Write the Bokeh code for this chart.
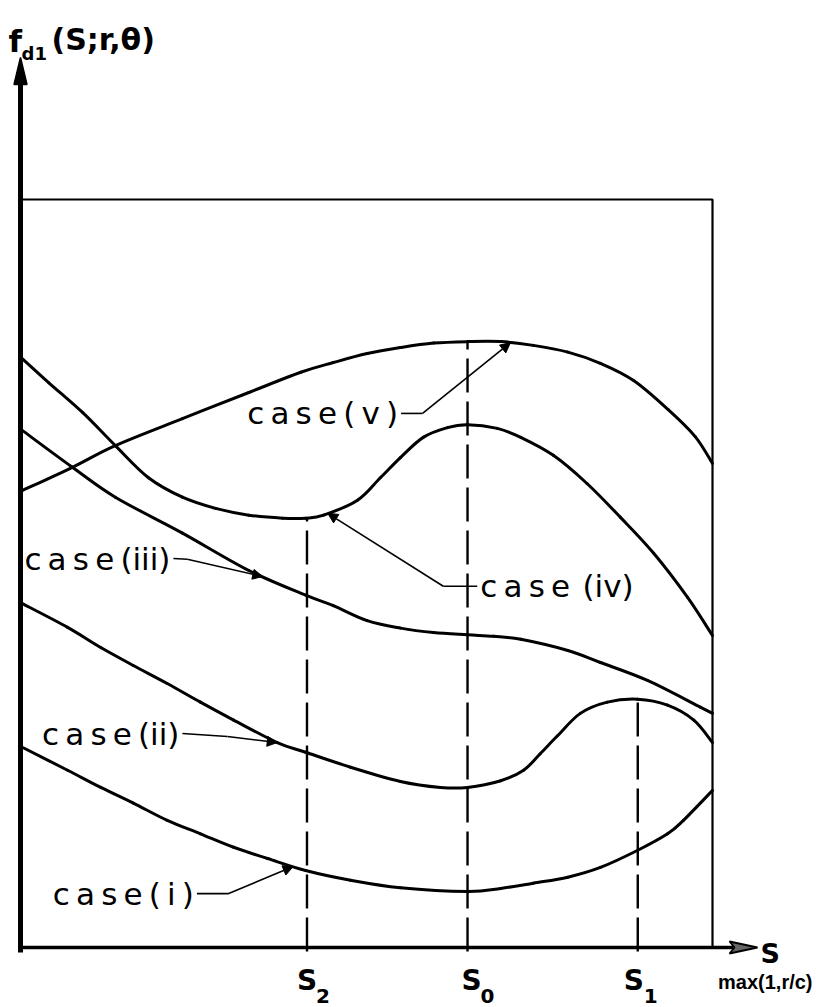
import numpy as np
from bokeh.plotting import figure
from bokeh.models import Range1d, Arrow, NormalHead, ColumnDataSource
from bokeh.core.properties import value
from bokeh.embed import file_html
from bokeh.resources import INLINE

# s runs from 0 (ordinate axis) to 100 at max(1, r/c);
# f_d1 runs from 0 (s axis) to 100 at the upper frame line.
S_MAX = 100.0
F_TOP = 100.0

# marked abscissae
s_marks = [41.4, 64.6, 89.2]          # s2, s0, s1
s_mark_names = ["2", "0", "1"]

# the five curves
case_i_s = [0.4, 6.8, 11.6, 16.3, 21.2, 26.0, 30.8, 35.7, 41.2, 47.7, 54.9,
            64.6, 69.4, 74.1, 79.1, 83.8, 89.2, 93.5, 95.8, 100.0]
case_i_f = [26.7, 23.7, 21.4, 19.3, 17.0, 15.2, 13.4, 11.9, 10.3, 9.0, 8.0,
            7.5, 7.9, 8.6, 9.4, 10.7, 13.0, 15.2, 17.0, 21.0]

case_ii_s = [0.0, 6.8, 11.6, 16.3, 21.2, 26.0, 30.8, 37.1, 41.2, 47.7, 54.9, 60.7,
             64.6, 69.4, 72.7, 75.1, 77.6, 80.9, 84.8, 89.2, 93.5, 97.3, 100.0]
case_ii_f = [46.1, 42.8, 40.1, 37.7, 35.3, 32.8, 30.4, 27.4, 26.1, 24.1, 22.2, 21.4,
             21.4, 22.3, 23.7, 25.9, 28.3, 31.3, 32.8, 33.2, 32.4, 30.4, 27.4]

case_iii_s = [0.3, 7.5, 13.7, 23.4, 33.0, 41.2, 45.2, 50.1, 54.9, 59.7, 64.6,
              68.4, 72.3, 79.1, 83.8, 90.6, 98.3, 100.0]
case_iii_f = [69.1, 64.2, 60.2, 55.4, 50.4, 47.1, 45.7, 43.7, 42.7, 42.1, 41.8,
              41.6, 41.2, 39.7, 38.1, 35.7, 32.1, 31.3]

case_iv_s = [0.3, 4.1, 9.0, 13.7, 18.5, 23.4, 28.2, 33.0, 37.9, 41.2, 43.8, 48.7, 52.0,
             54.9, 58.2, 61.7, 64.6, 68.9, 72.3, 77.0, 81.9, 86.7, 91.5, 96.4, 100.0]
case_iv_f = [78.7, 75.5, 71.5, 67.1, 62.8, 60.2, 58.7, 57.8, 57.4, 57.4, 57.8, 59.8, 62.8,
             65.5, 68.2, 69.5, 69.9, 69.4, 68.2, 65.8, 62.0, 57.5, 52.7, 46.8, 41.7]

case_v_s = [0.3, 7.5, 13.7, 23.4, 33.0, 40.5, 45.2, 50.1, 54.9, 59.7, 64.6, 69.4,
            74.1, 79.1, 83.8, 88.6, 93.6, 97.5, 100.0]
case_v_f = [61.1, 64.2, 67.1, 70.7, 74.2, 76.9, 78.2, 79.4, 80.2, 80.8, 81.0, 81.0,
            80.5, 79.6, 78.1, 75.8, 71.9, 68.3, 64.7]

# curve labels, the point where each leader leaves its label,
# the leader's bend and the abscissa where its arrow meets the curve
case_labels = ["c\u2009a\u2009s\u2009e\u2009(\u2009i\u2009)",
               "c\u2009a\u2009s\u2009e\u2009(ii)",
               "c\u2009a\u2009s\u2009e\u2009(iii)",
               "c\u2009a\u2009s\u2009e\u2009\u2009(iv)",
               "c\u2009a\u2009s\u2009e\u2009(\u2009v\u2009)"]
leader_start_s = [25.5, 23.4, 22.1, 66.0, 55.0]
leader_start_f = [7.2, 28.6, 52.0, 48.3, 71.4]
leader_bend_s = [30.0, 29.9, 24.1, 61.1, 58.1]
leader_bend_f = [7.2, 28.2, 51.9, 48.3, 71.4]
leader_tip_s = [39.4, 37.1, 35.0, 44.4, 70.8]

curves = [(case_i_s, case_i_f), (case_ii_s, case_ii_f), (case_iii_s, case_iii_f),
          (case_iv_s, case_iv_f), (case_v_s, case_v_f)]

# page geometry (pixels)
W, H = 816, 1007
X0_PX, Y0_PX = 20.0, 947.0        # where the axes cross
PX_S, PX_F = 6.92, 7.48           # pixels per unit of s and f


def sx(px):
    return (px - X0_PX) / PX_S


def fy(py):
    return (Y0_PX - py) / PX_F


def smooth_segments(xs, ys):
    """Cubic Bezier pieces (Catmull-Rom tangents) passing through every point."""
    x = np.asarray(xs, float)
    y = np.asarray(ys, float)
    xp = np.concatenate([[x[0]], x, [x[-1]]])
    yp = np.concatenate([[y[0]], y, [y[-1]]])
    n = len(x) - 1
    cx0 = x[:n] + (xp[2:n + 2] - xp[0:n]) / 6.0
    cy0 = y[:n] + (yp[2:n + 2] - yp[0:n]) / 6.0
    cx1 = x[1:] - (xp[3:n + 3] - xp[1:n + 1]) / 6.0
    cy1 = y[1:] - (yp[3:n + 3] - yp[1:n + 1]) / 6.0
    return dict(x0=x[:n], y0=y[:n], x1=x[1:], y1=y[1:],
                cx0=cx0, cy0=cy0, cx1=cx1, cy1=cy1)


p = figure(width=W, height=H,
           x_range=Range1d(sx(0), sx(W)), y_range=Range1d(fy(H), fy(0)),
           x_axis_type=None, y_axis_type=None,
           toolbar_location=None, output_backend="svg",
           min_border=0, outline_line_color=None,
           background_fill_color="white", border_fill_color="white")

INK = "black"
FONT = value("DejaVu Sans")

# frame: upper line and the line at max(1, r/c)
p.line([0, S_MAX, S_MAX], [F_TOP, F_TOP, 0], line_color=INK, line_width=2.2)

# curves
for cs, cf in curves:
    p.bezier(source=ColumnDataSource(smooth_segments(cs, cf)),
             x0="x0", y0="y0", x1="x1", y1="y1",
             cx0="cx0", cy0="cy0", cx1="cx1", cy1="cy1",
             line_color=INK, line_width=3, line_cap="round")

# dashed verticals at s2, s0, s1 up to the curve that defines them
tops = [float(np.interp(s_marks[0], case_iv_s, case_iv_f)),
        float(np.interp(s_marks[1], case_v_s, case_v_f)),
        float(np.interp(s_marks[2], case_ii_s, case_ii_f))]
p.segment(x0=s_marks, y0=[fy(Y0_PX + 4)] * 3, x1=s_marks, y1=tops,
          line_color=INK, line_width=2.4, line_dash="34 9")

# axes with arrowheads
p.line([0, 0], [fy(Y0_PX + 5), fy(80)], line_color=INK, line_width=5)
p.patch([sx(X0_PX - 6.5), 0, sx(X0_PX + 6.5)], [fy(84), fy(57), fy(84)],
        fill_color=INK, line_color=INK, line_width=1.5)
p.line([0, sx(733)], [0, 0], line_color=INK, line_width=3.5)
p.patch([sx(729), sx(757), sx(729), sx(734)],
        [fy(Y0_PX - 6), 0, fy(Y0_PX + 6), 0],
        fill_color="#666666", line_color=INK, line_width=1.8)

# leaders and their arrows
tip_f = [float(np.interp(ts, cs, cf)) for ts, (cs, cf) in zip(leader_tip_s, curves)]
p.segment(x0=leader_start_s, y0=leader_start_f, x1=leader_bend_s, y1=leader_bend_f,
          line_color=INK, line_width=1.6)
arrows = ColumnDataSource(dict(x0=leader_bend_s, y0=leader_bend_f,
                               x1=leader_tip_s, y1=tip_f))
p.add_layout(Arrow(source=arrows, x_start="x0", y_start="y0", x_end="x1", y_end="y1",
                   line_color=INK, line_width=1.6,
                   end=NormalHead(size=10, fill_color=INK, line_color=INK, line_width=1)))

# curve labels: (iv) sits to the right of its leader, the others to the left
gap = 3.0 / PX_S
left_idx = [0, 1, 2, 4]
p.text(x=[leader_start_s[i] - gap for i in left_idx],
       y=[leader_start_f[i] for i in left_idx],
       text=[case_labels[i] for i in left_idx],
       text_font=FONT, text_font_size="31px", text_color=INK,
       text_align="right", text_baseline="middle")
p.text(x=[leader_start_s[3] + gap], y=[leader_start_f[3]], text=[case_labels[3]],
       text_font=FONT, text_font_size="31px", text_color=INK,
       text_align="left", text_baseline="middle")

# abscissa labels s2, s0, s1
s_dx = [0, 4, -4]
sub_dx = [9, 13, 6]
p.text(x=[s + d / PX_S for s, d in zip(s_marks, s_dx)], y=[fy(980)] * 3,
       text=["S"] * 3, text_font=FONT, text_font_size="28px", text_font_style="bold",
       text_color=INK, text_align="center", text_baseline="alphabetic")
p.text(x=[s + d / PX_S for s, d in zip(s_marks, sub_dx)], y=[fy(995)] * 3,
       text=s_mark_names, text_font=FONT, text_font_size="20px", text_font_style="bold",
       text_color=INK, text_align="left", text_baseline="alphabetic")
p.text(x=[sx(812)], y=[fy(981)], text=["max(1,r/c)"],
       text_font=value("Liberation Sans"), text_font_size="20px", text_font_style="bold",
       text_color=INK, text_align="right", text_baseline="alphabetic")

# axis names
p.text(x=[sx(760)], y=[fy(953)], text=["S"], text_font=FONT, text_font_size="27px",
       text_font_style="bold", text_color=INK, text_align="left", text_baseline="alphabetic")
p.text(x=[sx(8)], y=[fy(40)], text=["f"], text_font=FONT, text_font_size="31px",
       text_font_style="bold", text_color=INK, text_align="left", text_baseline="alphabetic")
p.text(x=[sx(21)], y=[fy(53)], text=["d1"], text_font=FONT, text_font_size="18px",
       text_font_style="bold", text_color=INK, text_align="left", text_baseline="alphabetic")
p.text(x=[sx(51)], y=[fy(39)], text=["(S;r,\u03b8)"], text_font=FONT, text_font_size="30px",
       text_font_style="bold", text_color=INK, text_align="left", text_baseline="alphabetic")

open("out.html", "w").write(file_html(p, INLINE))
